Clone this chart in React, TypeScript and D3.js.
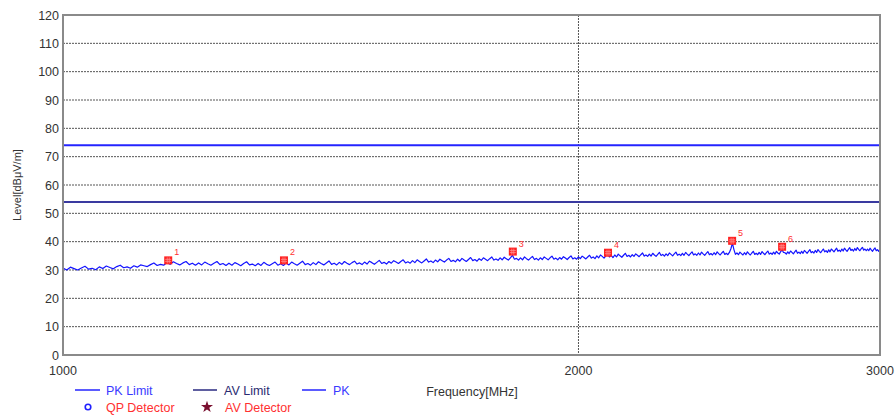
import * as d3 from "d3";

// sweep settings of the receiver (1000 - 3000 MHz, 5 MHz step)
const sweepStart = 1000;
const sweepStep = 5;

// PK trace, dBuV/m, one value per sweep step
const pkLevels = [
  30.7, 30.0, 31.0, 30.5, 30.0, 30.7, 31.3, 30.3, 30.6, 30.1,
  31.1, 30.5, 31.4, 30.9, 30.4, 31.2, 31.7, 30.8, 31.1, 30.6,
  31.5, 31.0, 31.8, 31.5, 31.2, 31.9, 32.5, 31.6, 32.0, 31.7,
  32.6, 32.0, 32.9, 32.3, 31.8, 32.5, 33.0, 31.9, 32.4, 31.7,
  32.5, 31.8, 32.8, 32.2, 31.7, 32.4, 33.0, 31.9, 32.3, 31.6,
  32.4, 31.7, 32.6, 32.1, 31.5, 32.3, 32.9, 31.8, 32.1, 31.5,
  32.3, 31.6, 32.7, 32.0, 31.6, 32.2, 32.8, 31.7, 32.2, 31.6,
  32.5, 31.8, 32.8, 32.2, 31.7, 32.4, 33.1, 31.9, 32.3, 31.7,
  32.6, 31.9, 32.9, 32.3, 31.8, 32.5, 33.2, 32.0, 32.4, 31.8,
  32.7, 32.0, 33.0, 32.4, 31.9, 32.6, 33.1, 32.1, 32.5, 31.9,
  32.8, 32.1, 33.1, 32.6, 32.0, 32.7, 33.4, 32.3, 32.7, 32.1,
  33.0, 32.4, 33.3, 32.8, 32.3, 33.0, 33.6, 32.5, 32.9, 32.4,
  33.3, 32.6, 33.6, 33.0, 32.5, 33.2, 33.9, 32.8, 33.2, 32.6,
  33.5, 32.9, 33.8, 33.3, 32.8, 33.5, 34.1, 33.0, 33.4, 32.9,
  33.8, 33.1, 34.1, 33.5, 33.0, 33.7, 34.4, 33.3, 33.7, 33.1,
  34.0, 33.4, 34.3, 33.8, 33.3, 34.0, 34.6, 33.5, 33.9, 33.4,
  34.3, 33.6, 34.5, 34.0, 33.5, 34.3, 35.2, 33.8, 34.1, 33.5,
  34.3, 33.6, 34.6, 34.0, 33.5, 34.2, 34.8, 33.7, 34.1, 33.5,
  34.3, 33.7, 34.6, 34.1, 33.6, 34.3, 34.9, 33.8, 34.2, 33.6,
  34.4, 33.8, 34.7, 34.2, 33.7, 34.4, 35.0, 33.9, 34.3, 33.8,
  34.6, 34.0, 34.9, 34.4, 33.9, 34.6, 35.2, 34.2, 34.6, 34.0,
  35.0, 34.3, 35.3, 34.8, 34.2, 35.0, 35.8, 34.6, 35.2, 34.4,
  35.3, 34.6, 35.6, 35.0, 34.5, 35.2, 35.9, 34.8, 35.2, 34.6,
  35.4, 34.8, 35.7, 35.2, 34.7, 35.4, 36.0, 34.9, 35.3, 34.8,
  35.6, 34.9, 35.9, 35.3, 34.8, 35.5, 36.2, 35.1, 35.5, 34.9,
  35.7, 35.1, 36.0, 35.5, 35.0, 35.7, 36.3, 35.2, 35.6, 35.1,
  35.9, 35.2, 36.2, 35.6, 35.1, 35.8, 36.4, 35.3, 35.7, 35.2,
  36.0, 35.3, 36.3, 35.7, 35.2, 35.9, 36.5, 35.4, 35.8, 35.3,
  36.1, 35.4, 36.4, 35.8, 35.3, 36.0, 36.6, 35.5, 35.9, 35.4,
  36.2, 37.5, 39.5, 37.2, 35.5, 36.0, 35.4, 36.3, 35.8, 35.3,
  36.1, 35.4, 36.4, 35.8, 35.3, 36.0, 36.6, 35.5, 35.9, 35.4,
  36.2, 35.5, 36.5, 35.9, 35.4, 36.1, 36.7, 35.6, 36.0, 35.5,
  36.3, 35.6, 36.6, 36.0, 35.6, 36.5, 37.1, 36.2, 36.1, 35.6,
  36.4, 35.8, 36.7, 36.2, 35.7, 36.4, 37.0, 35.9, 36.3, 35.8,
  36.6, 35.9, 36.9, 36.4, 35.9, 36.6, 37.2, 36.1, 36.5, 36.0,
  36.9, 36.2, 37.2, 36.6, 36.1, 36.8, 37.4, 36.4, 36.8, 36.2,
  37.1, 36.4, 37.4, 36.9, 36.4, 37.1, 37.7, 36.6, 37.0, 36.5,
  37.4, 36.7, 37.7, 37.1, 36.6, 37.3, 37.9, 36.9, 37.3, 36.7,
  37.6, 36.9, 37.9, 37.3, 36.8, 37.5, 38.0, 37.0, 37.4, 36.8,
  37.4, 36.8, 37.7, 37.1, 36.6, 37.3, 37.8, 36.8, 37.2, 36.6,
  37.2,
];

const pkLimit = 74;
const avLimit = 54;

// marked peaks
const markerFreqs = [1152, 1346, 1831, 2081, 2459, 2630];
const markerLevels = [33.4, 33.4, 36.5, 36.1, 40.3, 38.2];
const markerLabels = ["1", "2", "3", "4", "5", "6"];

const yTicks = [0, 10, 20, 30, 40, 50, 60, 70, 80, 90, 100, 110, 120];
const xTicks = [1000, 2000, 3000];

const width = 895;
const height = 415;
const left = 63;
const right = 880;
const top = 15;
const bottom = 355;

const font = "'Liberation Sans', Arial, sans-serif";

export default function App() {
  const x = d3.scaleLog().domain([1000, 3000]).range([left, right]);
  const y = d3.scaleLinear().domain([0, 120]).range([bottom, top]);

  const trace = pkLevels.map((v, i) => [sweepStart + i * sweepStep, v] as [number, number]);
  const line = d3
    .line<[number, number]>()
    .x((d) => x(d[0]))
    .y((d) => y(d[1]));

  const star = d3.symbol(d3.symbolStar, 45)() || "";

  return (
    <svg
      width={width}
      height={height}
      style={{ position: "absolute", left: 0, top: 0, background: "#fff" }}
      fontFamily={font}
    >
      {/* horizontal grid */}
      {yTicks.slice(1, -1).map((t) => (
        <line
          key={t}
          x1={left}
          x2={right}
          y1={y(t)}
          y2={y(t)}
          stroke="#555"
          strokeWidth={1}
          strokeDasharray="2,1"
        />
      ))}
      {/* vertical grid at 2000 */}
      <line
        x1={x(2000)}
        x2={x(2000)}
        y1={top}
        y2={bottom}
        stroke="#555"
        strokeWidth={1}
        strokeDasharray="2,1"
      />

      {/* limits */}
      <line x1={left} x2={right} y1={y(pkLimit)} y2={y(pkLimit)} stroke="#2424ff" strokeWidth={2} />
      <line x1={left} x2={right} y1={y(avLimit)} y2={y(avLimit)} stroke="#3a3aa0" strokeWidth={2} />

      {/* PK trace */}
      <path d={line(trace) || ""} fill="none" stroke="#1414ff" strokeWidth={1.2} strokeLinejoin="round" />

      {/* markers */}
      {markerFreqs.map((f, i) => {
        const cx = x(f);
        const cy = y(markerLevels[i]);
        return (
          <g key={i}>
            <rect x={cx - 4} y={cy - 4} width={8} height={8} fill="#ff2020" />
            <path
              d={`M${cx - 3},${cy - 1}h6M${cx - 3},${cy + 1}h6M${cx - 1},${cy - 3}v6M${cx + 1},${cy - 3}v6`}
              stroke="#ff9090"
              strokeWidth={0.8}
            />
            <text x={cx + 6} y={cy - 5} fontSize={9} fill="#ff3030">
              {markerLabels[i]}
            </text>
          </g>
        );
      })}

      {/* frame */}
      <rect
        x={left}
        y={top}
        width={right - left}
        height={bottom - top}
        fill="none"
        stroke="#8a8a8a"
        strokeWidth={2}
      />

      {/* y ticks */}
      {yTicks.map((t) => (
        <text key={t} x={59} y={y(t) + 4.5} fontSize={12.5} fill="#333" textAnchor="end">
          {t}
        </text>
      ))}
      <text
        transform={`translate(21,${(top + bottom) / 2}) rotate(-90)`}
        fontSize={11}
        fill="#333"
        textAnchor="middle"
      >
        Level[dBμV/m]
      </text>

      {/* x ticks */}
      {xTicks.map((t) => (
        <text key={t} x={x(t)} y={375} fontSize={12.5} fill="#333" textAnchor="middle">
          {t}
        </text>
      ))}
      <text x={472} y={396} fontSize={12.5} fill="#333" textAnchor="middle">
        Frequency[MHz]
      </text>

      {/* legend */}
      <g fontSize={12.5}>
        <line x1={75} x2={100} y1={390} y2={390} stroke="#2424ff" strokeWidth={1.5} />
        <text x={106} y={394.5} fill="#3a3aff">PK Limit</text>
        <line x1={193} x2={217} y1={390} y2={390} stroke="#2a2a80" strokeWidth={1.5} />
        <text x={224} y={394.5} fill="#2a2a70">AV Limit</text>
        <line x1={302} x2={326} y1={390} y2={390} stroke="#2424ff" strokeWidth={1.5} />
        <text x={333} y={394.5} fill="#3a3aff">PK</text>

        <circle cx={88} cy={407} r={2.8} fill="none" stroke="#2020ff" strokeWidth={1.6} />
        <text x={106} y={411.5} fill="#ff3030">QP Detector</text>
        <path d={star} transform="translate(207,407)" fill="#7a1030" />
        <text x={225} y={411.5} fill="#ff3030">AV Detector</text>
      </g>
    </svg>
  );
}
